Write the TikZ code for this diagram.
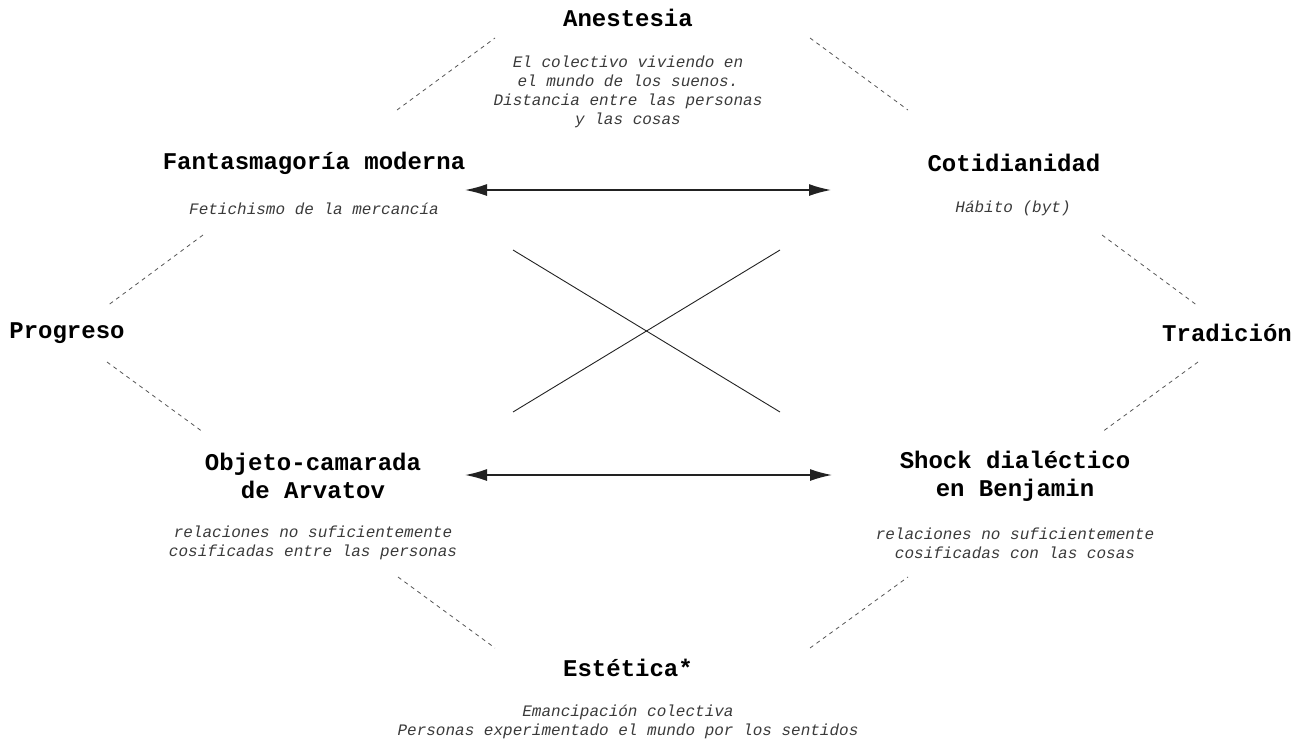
\documentclass[tikz,border=0pt]{standalone}
\usepackage{fontspec}
\usetikzlibrary{arrows.meta}
\newfontfamily\monofam{Liberation Mono}
\definecolor{notegray}{HTML}{3A3A3A}
\definecolor{dashgray}{HTML}{555555}
\definecolor{arrowgray}{HTML}{222222}
\tikzset{
	title/.style={inner sep=0pt, align=center, font=\monofam\bfseries\fontsize{12}{14}\selectfont},
	note/.style={inner sep=0pt, align=center, text=notegray, font=\monofam\itshape\fontsize{8}{9.5}\selectfont},
	link/.style={dashgray, line width=0.4pt, dash pattern=on 2pt off 2pt},
	relation/.style={arrowgray, line width=0.75pt, {Latex[length=11pt,width=6pt]}-{Latex[length=11pt,width=6pt]}},
	cross/.style={arrowgray, line width=0.45pt}
}
\begin{document}
\begin{tikzpicture}[x=0.5pt,y=-0.5pt]

		\useasboundingbox (0,0) rectangle (1307,745);

		% top
		\node[title] (anest) at (628,18) {Anestesia};
		\node[note] (anestnote) at (628,92) {El colectivo viviendo en\\el mundo de los suenos.\\Distancia entre las personas\\y las cosas};

		% upper row
		\node[title] (fantas) at (314,163) {Fantasmagoría moderna};
		\node[note] (fantasnote) at (314,209) {Fetichismo de la mercancía};
		\node[title] (cotid) at (1014,163) {Cotidianidad};
		\node[note] (cotidnote) at (1013,208) {Hábito (byt)};

		% sides
		\node[title] (progreso) at (67,333) {Progreso};
		\node[title] (tradicion) at (1227,333) {Tradición};

		% lower row
		\node[title] (objeto) at (313,476) {Objeto-camarada\\de Arvatov};
		\node[note] (objetonote) at (313,543) {relaciones no suficientemente\\cosificadas entre las personas};
		\node[title] (shock) at (1015,476) {Shock dialéctico\\en Benjamin};
		\node[note] (shocknote) at (1015,543) {relaciones no suficientemente\\cosificadas con las cosas};

		% bottom
		\node[title] (estetica) at (628,668) {Estética*};
		\node[note] (esteticanote) at (628,722) {Emancipación colectiva\\Personas experimentado el mundo por los sentidos};

		%% connector ends %%
		\coordinate (arrTL) at (465,190);
		\coordinate (arrTR) at (831,190);
		\coordinate (arrBL) at (465,475);
		\coordinate (arrBR) at (832,475);

		\coordinate (crossA) at (513,250);
		\coordinate (crossB) at (780,412);
		\coordinate (crossC) at (513,412);
		\coordinate (crossD) at (780,250);

		\coordinate (dTLa) at (397,110);
		\coordinate (dTLb) at (495,38);
		\coordinate (dTRa) at (810,38);
		\coordinate (dTRb) at (908,110);
		\coordinate (dLUa) at (203,235);
		\coordinate (dLUb) at (107,306);
		\coordinate (dLLa) at (107,362);
		\coordinate (dLLb) at (203,432);
		\coordinate (dRUa) at (1102,235);
		\coordinate (dRUb) at (1198,306);
		\coordinate (dRLa) at (1198,362);
		\coordinate (dRLb) at (1102,432);
		\coordinate (dBLa) at (398,577);
		\coordinate (dBLb) at (495,648);
		\coordinate (dBRa) at (810,648);
		\coordinate (dBRb) at (908,577);

		% arrows
		\draw[relation] (arrTL) -- (arrTR);
		\draw[relation] (arrBL) -- (arrBR);

		% cross
		\draw[cross] (crossA) -- (crossB);
		\draw[cross] (crossC) -- (crossD);

		% dashed links
		\draw[link] (dTLa) -- (dTLb);
		\draw[link] (dTRa) -- (dTRb);
		\draw[link] (dLUa) -- (dLUb);
		\draw[link] (dLLa) -- (dLLb);
		\draw[link] (dRUa) -- (dRUb);
		\draw[link] (dRLa) -- (dRLb);
		\draw[link] (dBLa) -- (dBLb);
		\draw[link] (dBRa) -- (dBRb);

\end{tikzpicture}
\end{document}
